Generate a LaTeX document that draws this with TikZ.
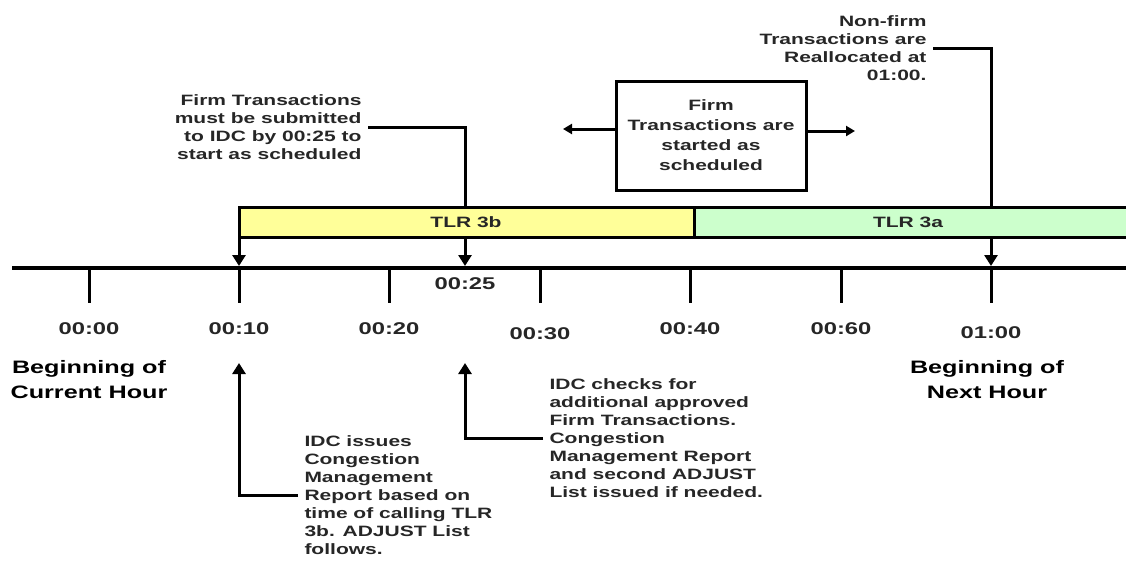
\documentclass[tikz,border=0pt]{standalone}
\usepackage{fontspec}
\setmainfont[FakeStretch=1.4]{Liberation Sans}
\usepackage{tikz}
\usetikzlibrary{arrows.meta}

\definecolor{tlrbfill}{HTML}{FFFF99}
\definecolor{tlrafill}{HTML}{CCFFCC}

\begin{document}
\begin{tikzpicture}[
						x=1pt, y=-1pt,
						line width=3pt,
						every node/.style={font=\bfseries\fontsize{15}{18}\selectfont, text=black!85},
						note/.style={inner sep=5pt, align=left},
						ticklabel/.style={font=\bfseries\fontsize{17}{20}\selectfont},
						hourlabel/.style={font=\bfseries\fontsize{18}{25}\selectfont, align=center, text=black},
						tip/.style={-{Triangle[width=13pt,length=11pt]}},
						smalltip/.style={-{Triangle[width=10pt,length=9pt]}}
						]
						
						\useasboundingbox (0,0) rectangle (1126,573);
						
						% Bars
						\fill[tlrbfill] (239,207) rectangle (694,237);
						\fill[tlrafill] (694,207) rectangle (1126,237);
						\draw (1126,207) -- (239,207) -- (239,237) -- (1126,237);
						\draw (694,207) -- (694,237);
						\node (tlrb) at (466,222) {TLR 3b};
						\node (tlra) at (908,222) {TLR 3a};
						
						\coordinate (b10) at (239,237);
						\coordinate (b25top) at (465,207);
						\coordinate (b25) at (465,237);
						\coordinate (b60top) at (991,207);
						\coordinate (b60) at (991,237);
						
						% Time line
						\draw[line width=3.5pt] (12,268) -- (1126,268);
						\foreach \x/\lab/\ly in {89/00:00/329, 239/00:10/329, 389/00:20/329, 540/00:30/334, 690/00:40/329, 841/00:60/329, 991/01:00/333}{
							\draw (\x,268) -- (\x,303);
							\node[ticklabel] (lab\x) at (\x,\ly) {\lab};
						}
						\node[ticklabel] (lab25) at (465,284) {00:25};
						
						\coordinate (t10) at (239,266);
						\coordinate (t25) at (465,266);
						\coordinate (t60) at (991,266);
						\coordinate (u10) at (239,363);
						\coordinate (u25) at (465,363);
						
						\draw[tip] (b10) -- (t10);
						\draw[tip] (b25) -- (t25);
						\draw[tip] (b60) -- (t60);
						
						% Notes above
						\node[note, anchor=east, align=right] (firmsub) at (368,127) {Firm Transactions\\must be submitted\\to IDC by 00:25 to\\start as scheduled};
						\draw (firmsub.east) -| (b25top);
						
						\node[note, anchor=east, align=right] (nonfirm) at (933,48) {Non-firm\\Transactions are\\Reallocated at\\01:00.};
						\draw (nonfirm.east) -| (b60top);
						
						\node[draw, minimum width=190pt, minimum height=109pt, align=center, inner sep=2pt, font=\bfseries\fontsize{15}{20}\selectfont] (started) at (711,135.5) {Firm\\Transactions are\\started as\\scheduled};
						\coordinate (leftend) at (563,129);
						\coordinate (rightend) at (855,131);
						\draw[smalltip] (started.west |- leftend) -- (leftend);
						\draw[smalltip] (started.east |- rightend) -- (rightend);
						
						% Hours
						\node[hourlabel] (curhour) at (89,380) {Beginning of\\Current Hour};
						\node[hourlabel] (nexthour) at (987,380) {Beginning of\\Next Hour};
						
						% Notes below
						\node[note, anchor=west] (issues) at (298,495) {IDC issues\\Congestion\\Management\\Report based on\\time of calling TLR\\3b. ADJUST List\\follows.};
						\draw[tip] (issues.west) -| (u10);
						
						\node[note, anchor=west] (checks) at (543,438) {IDC checks for\\additional approved\\Firm Transactions.\\Congestion\\Management Report\\and second ADJUST\\List issued if needed.};
						\draw[tip] (checks.west) -| (u25);
						
					\end{tikzpicture}
\end{document}
